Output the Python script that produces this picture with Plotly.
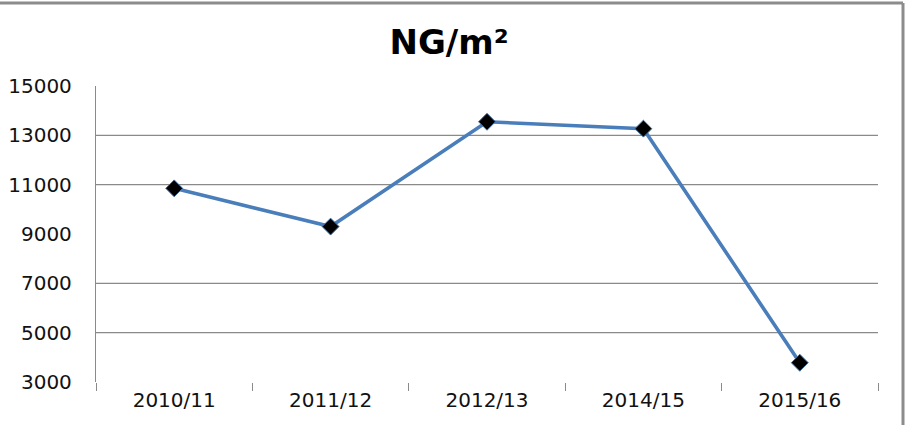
import plotly.graph_objects as go

# Data
seasons = ["2010/11", "2011/12", "2012/13", "2014/15", "2015/16"]
ng_values = [10850, 9300, 13550, 13270, 3780]
y_ticks = [3000, 5000, 7000, 9000, 11000, 13000, 15000]
y_tick_labels = ["3000", "5000", "7000", "9000", "11000", "13000", "15000"]
grid_values = [5000, 7000, 11000, 13000]

W, H = 908, 425
FONT = "DejaVu Sans"

fig = go.Figure()
fig.add_trace(go.Scatter(
    x=seasons, y=ng_values, mode="lines+markers",
    line=dict(color="#4A7EBB", width=3.6),
    marker=dict(symbol="diamond", size=13, color="#000000",
                line=dict(color="#3E6FA8", width=1)),
    showlegend=False,
))

top_y = (425 - 43 - 3) / (425 - 86 - 43)
right_x = (903 - 96) / 782
shapes = []
for g in grid_values:
    shapes.append(dict(type="line", xref="paper", yref="y", x0=0, x1=1, y0=g, y1=g,
                       line=dict(color="#8A8A8A", width=1.3), layer="below"))
# outer chart border (top and right edges visible)
shapes.append(dict(type="line", xref="paper", yref="paper",
                   x0=-96 / 782, x1=right_x, y0=top_y, y1=top_y,
                   line=dict(color="#8C8C8C", width=3)))
shapes.append(dict(type="line", xref="paper", yref="paper",
                   x0=right_x, x1=right_x, y0=-43 / 296, y1=top_y,
                   line=dict(color="#8C8C8C", width=3)))

fig.update_layout(
    width=W, height=H,
    margin=dict(l=96, r=30, t=86, b=43),
    paper_bgcolor="white", plot_bgcolor="white",
    title=dict(text="<b>NG/m²</b>", x=449 / W, xanchor="center", y=1 - 42 / H, yanchor="middle",
               font=dict(family=FONT, size=34, color="#000000")),
    font=dict(family=FONT, size=20, color="#111111"),
    shapes=shapes,
)
fig.update_xaxes(
    type="category", range=[-0.5, 4.5], showgrid=False, showline=False, zeroline=False,
    ticks="outside", tickson="boundaries", ticklen=8, tickcolor="#8A8A8A", tickwidth=1,
    tickfont=dict(family=FONT, size=20, color="#111111"),
    ticklabelstandoff=4, automargin=False,
)
fig.update_yaxes(
    range=[3000, 15000], tickvals=y_ticks, ticktext=y_tick_labels,
    showgrid=False, zeroline=False,
    showline=True, linecolor="#8A8A8A", linewidth=1.3,
    ticks="", ticklabelstandoff=19, automargin=False,
    tickfont=dict(family=FONT, size=20, color="#111111"),
)

fig.write_html("out.html")
